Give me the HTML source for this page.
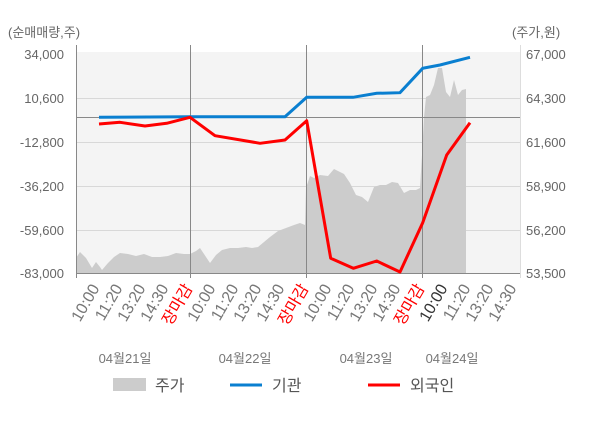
<!DOCTYPE html>
<html><head><meta charset="utf-8"><style>
html,body{margin:0;padding:0;background:#fff;}
svg{display:block;font-family:"Liberation Sans","Noto Sans CJK KR",sans-serif;}
</style></head><body>
<svg width="600" height="428" viewBox="0 0 600 428" xmlns="http://www.w3.org/2000/svg">
<rect x="76" y="52" width="444" height="221" fill="#f4f4f4"/>
<g stroke="#d8d8d8" stroke-width="1">
<line x1="76" y1="98.5" x2="520" y2="98.5"/>
<line x1="76" y1="142.5" x2="520" y2="142.5"/>
<line x1="76" y1="186.5" x2="520" y2="186.5"/>
<line x1="76" y1="230.5" x2="520" y2="230.5"/>
</g>
<polygon fill="#cccccc" points="76,258 80,252 86,258 92,268 96,262 100,267 102,270 108,263 114,257 120,253 128,254 136,256 144,254 152,257 160,257 168,256 176,253 184,254 190,254 196,251 200,248 204,254 210,263 216,255 222,250 230,248 238,248 246,247 252,248 258,247 264,242 270,237 278,231 286,228 294,225 300,223 305,225 306,188 310,176 314,178 320,175 328,176 334,169 338,171 344,174 350,183 356,195 362,197 368,202 374,187 380,185 386,185 392,182 398,183 404,193 410,190 416,190 420,188 422,155 424,117 426,97 430,95 434,85 438,68 442,68 446,92 450,97 454,80 458,95 462,90 466,89 466,273 76,273"/>
<g stroke="#888" stroke-width="1">
<line x1="76" y1="117.5" x2="520" y2="117.5"/>
<line x1="76.5" y1="45" x2="76.5" y2="278"/>
<line x1="190.5" y1="45" x2="190.5" y2="278"/>
<line x1="306.5" y1="45" x2="306.5" y2="278"/>
<line x1="422.5" y1="45" x2="422.5" y2="278"/>
<line x1="76" y1="273.5" x2="520" y2="273.5"/>
</g>
<line x1="520.5" y1="45" x2="520.5" y2="278" stroke="#ddd"/>
<polyline fill="none" stroke="#0a7fd0" stroke-width="3" points="99,117.3 190,116.7 285,116.7 306.7,97.3 353,97.3 376.7,93.3 400,92.7 422.7,68.3 440,65 470,57.3"/>
<polyline fill="none" stroke="#ff0000" stroke-width="3" stroke-linejoin="round" points="99,124 120,122.3 145,126 166.7,123.3 190,117.3 215,135.7 260,143.3 285,140 306.7,120.7 330.7,258.3 353.3,268.3 376.7,261 400,272 422.7,222.7 446.7,155 470,122.7"/>
<g font-size="13" fill="#666">
<text x="8" y="37">(순매매량,주)</text>
<text x="512" y="37">(주가,원)</text>
<g text-anchor="end">
<text x="64" y="59">34,000</text>
<text x="64" y="103">10,600</text>
<text x="64" y="147">-12,800</text>
<text x="64" y="191">-36,200</text>
<text x="64" y="235">-59,600</text>
<text x="64" y="278">-83,000</text>
</g>
<text x="526" y="59">67,000</text>
<text x="526" y="103">64,300</text>
<text x="526" y="147">61,600</text>
<text x="526" y="191">58,900</text>
<text x="526" y="235">56,200</text>
<text x="526" y="278">53,500</text>
</g>
<g font-size="16" fill="#777" text-anchor="end">
<text transform="translate(100,288) rotate(-60)">10:00</text>
<text transform="translate(123,288) rotate(-60)">11:20</text>
<text transform="translate(146,288) rotate(-60)">13:20</text>
<text transform="translate(169,288) rotate(-60)">14:30</text>
<text transform="translate(193,288) rotate(-60)" fill="#f00">장마감</text>
<text transform="translate(216,288) rotate(-60)">10:00</text>
<text transform="translate(239,288) rotate(-60)">11:20</text>
<text transform="translate(262,288) rotate(-60)">13:20</text>
<text transform="translate(285,288) rotate(-60)">14:30</text>
<text transform="translate(309,288) rotate(-60)" fill="#f00">장마감</text>
<text transform="translate(332,288) rotate(-60)">10:00</text>
<text transform="translate(355,288) rotate(-60)">11:20</text>
<text transform="translate(378,288) rotate(-60)">13:20</text>
<text transform="translate(401,288) rotate(-60)">14:30</text>
<text transform="translate(425,288) rotate(-60)" fill="#f00">장마감</text>
<text transform="translate(448,288) rotate(-60)" fill="#333">10:00</text>
<text transform="translate(471,288) rotate(-60)">11:20</text>
<text transform="translate(494,288) rotate(-60)">13:20</text>
<text transform="translate(517,288) rotate(-60)">14:30</text>
</g>
<g font-size="13" fill="#777" text-anchor="middle">
<text x="125" y="363">04월21일</text>
<text x="245" y="363">04월22일</text>
<text x="366" y="363">04월23일</text>
<text x="452" y="363">04월24일</text>
</g>
<rect x="113" y="378" width="33" height="13" fill="#cccccc"/>
<line x1="230" y1="385" x2="262" y2="385" stroke="#0a7fd0" stroke-width="3"/>
<line x1="368" y1="385" x2="400" y2="385" stroke="#f00" stroke-width="3"/>
<g font-size="16" fill="#555">
<text x="155" y="391">주가</text>
<text x="272" y="391">기관</text>
<text x="410" y="391">외국인</text>
</g>
</svg>
</body></html>
